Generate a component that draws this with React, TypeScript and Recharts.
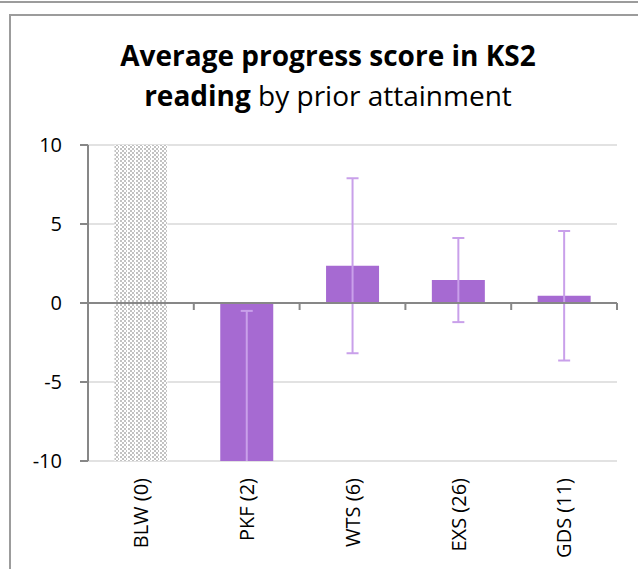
import React from "react";
import {
  BarChart,
  Bar,
  XAxis,
  YAxis,
  CartesianGrid,
  ErrorBar,
  ReferenceLine,
} from "recharts";

// categories with pupil counts, as shown on the x axis
const categories = ["BLW (0)", "PKF (2)", "WTS (6)", "EXS (26)", "GDS (11)"];
// average progress score per group (PKF runs off the bottom of the axis)
const progressScores = [null, -12.6, 2.36, 1.45, 0.46];
// half-width of the confidence interval drawn as error bars
const confidenceHalf = [null, 12.1, 5.54, 2.66, 4.1];
// no pupils in BLW: the whole column is shaded
const noDataRange = [[-10, 10], null, null, null, null];
const yTicks = [-10, -5, 0, 5, 10];

const data = categories.map((name, i) => ({
  name,
  score: progressScores[i],
  ci: confidenceHalf[i],
  shade: noDataRange[i],
}));

const FONT = "'Open Sans', 'Noto Sans', sans-serif";
const PURPLE = "#a66ad2";
const ERR = "#c9a0ea";
const AXIS = "#878787";

const CategoryTick = (props: any) => {
  const { x, y, payload } = props;
  return (
    <text
      x={0}
      y={0}
      transform={`translate(${x},${y}) rotate(-90)`}
      textAnchor="end"
      dy="0.36em"
      fontFamily={FONT}
      fontSize={20}
      fill="#000"
    >
      {payload.value}
    </text>
  );
};

// horizontal axis sits at zero, with tick marks between categories
const ZeroAxis = (props: any) => {
  const { x1, y1, x2 } = props;
  const step = (x2 - x1) / categories.length;
  return (
    <g>
      <line x1={x1} y1={y1} x2={x2} y2={y1} stroke={AXIS} strokeWidth={2} />
      {Array.from({ length: categories.length + 1 }, (_, i) => (
        <line
          key={i}
          x1={x1 + step * i}
          y1={y1}
          x2={x1 + step * i}
          y2={y1 + 7}
          stroke={AXIS}
          strokeWidth={2}
        />
      ))}
    </g>
  );
};

export default function App() {
  return (
    <div
      style={{
        position: "absolute",
        left: 0,
        top: 0,
        width: 638,
        height: 569,
        overflow: "hidden",
        background: "#fff",
      }}
    >
      {/* error bars are not clipped by recharts, borrow the bar clip */}
      <style>{`.recharts-errorBars { clip-path: url(#clipPath-scoreBars); }`}</style>
      <div
        style={{
          position: "absolute",
          left: 0,
          top: 1,
          width: 638,
          borderTop: "2px solid #9c9c9c",
        }}
      />
      <div
        style={{
          position: "absolute",
          left: 9,
          top: 14,
          width: 700,
          height: 700,
          borderTop: "2px solid #9c9c9c",
          borderLeft: "2px solid #9c9c9c",
        }}
      />
      <svg width={0} height={0} style={{ position: "absolute" }}>
        <defs>
          <pattern id="blwPattern" width={8} height={4} patternUnits="userSpaceOnUse">
            <rect width={8} height={4} fill="#fff" />
            <rect x={0} y={0} width={2} height={2} fill="#c2c2c2" />
            <rect x={4} y={0} width={2} height={2} fill="#c2c2c2" />
            <rect x={2} y={2} width={2} height={2} fill="#c2c2c2" />
            <rect x={6} y={2} width={1} height={2} fill="#c2c2c2" />
          </pattern>
        </defs>
      </svg>
      <div
        style={{
          position: "absolute",
          left: 0,
          top: 35,
          width: 656,
          textAlign: "center",
          fontFamily: FONT,
          fontSize: 28,
          lineHeight: "40px",
          color: "#000",
        }}
      >
        <div style={{ fontWeight: 700 }}>Average progress score in KS2</div>
        <div>
          <span style={{ fontWeight: 700 }}>reading</span> by prior attainment
        </div>
      </div>
      <div style={{ position: "absolute", left: 0, top: 0 }}>
        <BarChart
          width={638}
          height={569}
          data={data}
          margin={{ top: 145, right: 21, left: 8, bottom: 8 }}
          barCategoryGap="25%"
        >
          <CartesianGrid vertical={false} stroke="#d9d9d9" strokeWidth={1.5} />
          <XAxis
            dataKey="name"
            height={100}
            axisLine={false}
            tickLine={false}
            tickSize={0}
            tickMargin={17}
            interval={0}
            tick={<CategoryTick />}
          />
          <XAxis xAxisId="shade" dataKey="name" hide />
          <YAxis
            domain={[-10, 10]}
            ticks={yTicks}
            allowDataOverflow
            width={80}
            tickSize={8}
            tickMargin={18}
            axisLine={{ stroke: AXIS, strokeWidth: 2 }}
            tickLine={{ stroke: AXIS, strokeWidth: 2 }}
            tick={{ fill: "#000", fontSize: 20, fontFamily: FONT }}
          />
          <Bar
            dataKey="shade"
            xAxisId="shade"
            fill="url(#blwPattern)"
            isAnimationActive={false}
          />
          <Bar id="scoreBars" dataKey="score" fill={PURPLE} isAnimationActive={false}>
            <ErrorBar dataKey="ci" width={6} stroke={ERR} strokeWidth={2} />
          </Bar>
          <ReferenceLine y={0} shape={<ZeroAxis />} />
        </BarChart>
      </div>
    </div>
  );
}
